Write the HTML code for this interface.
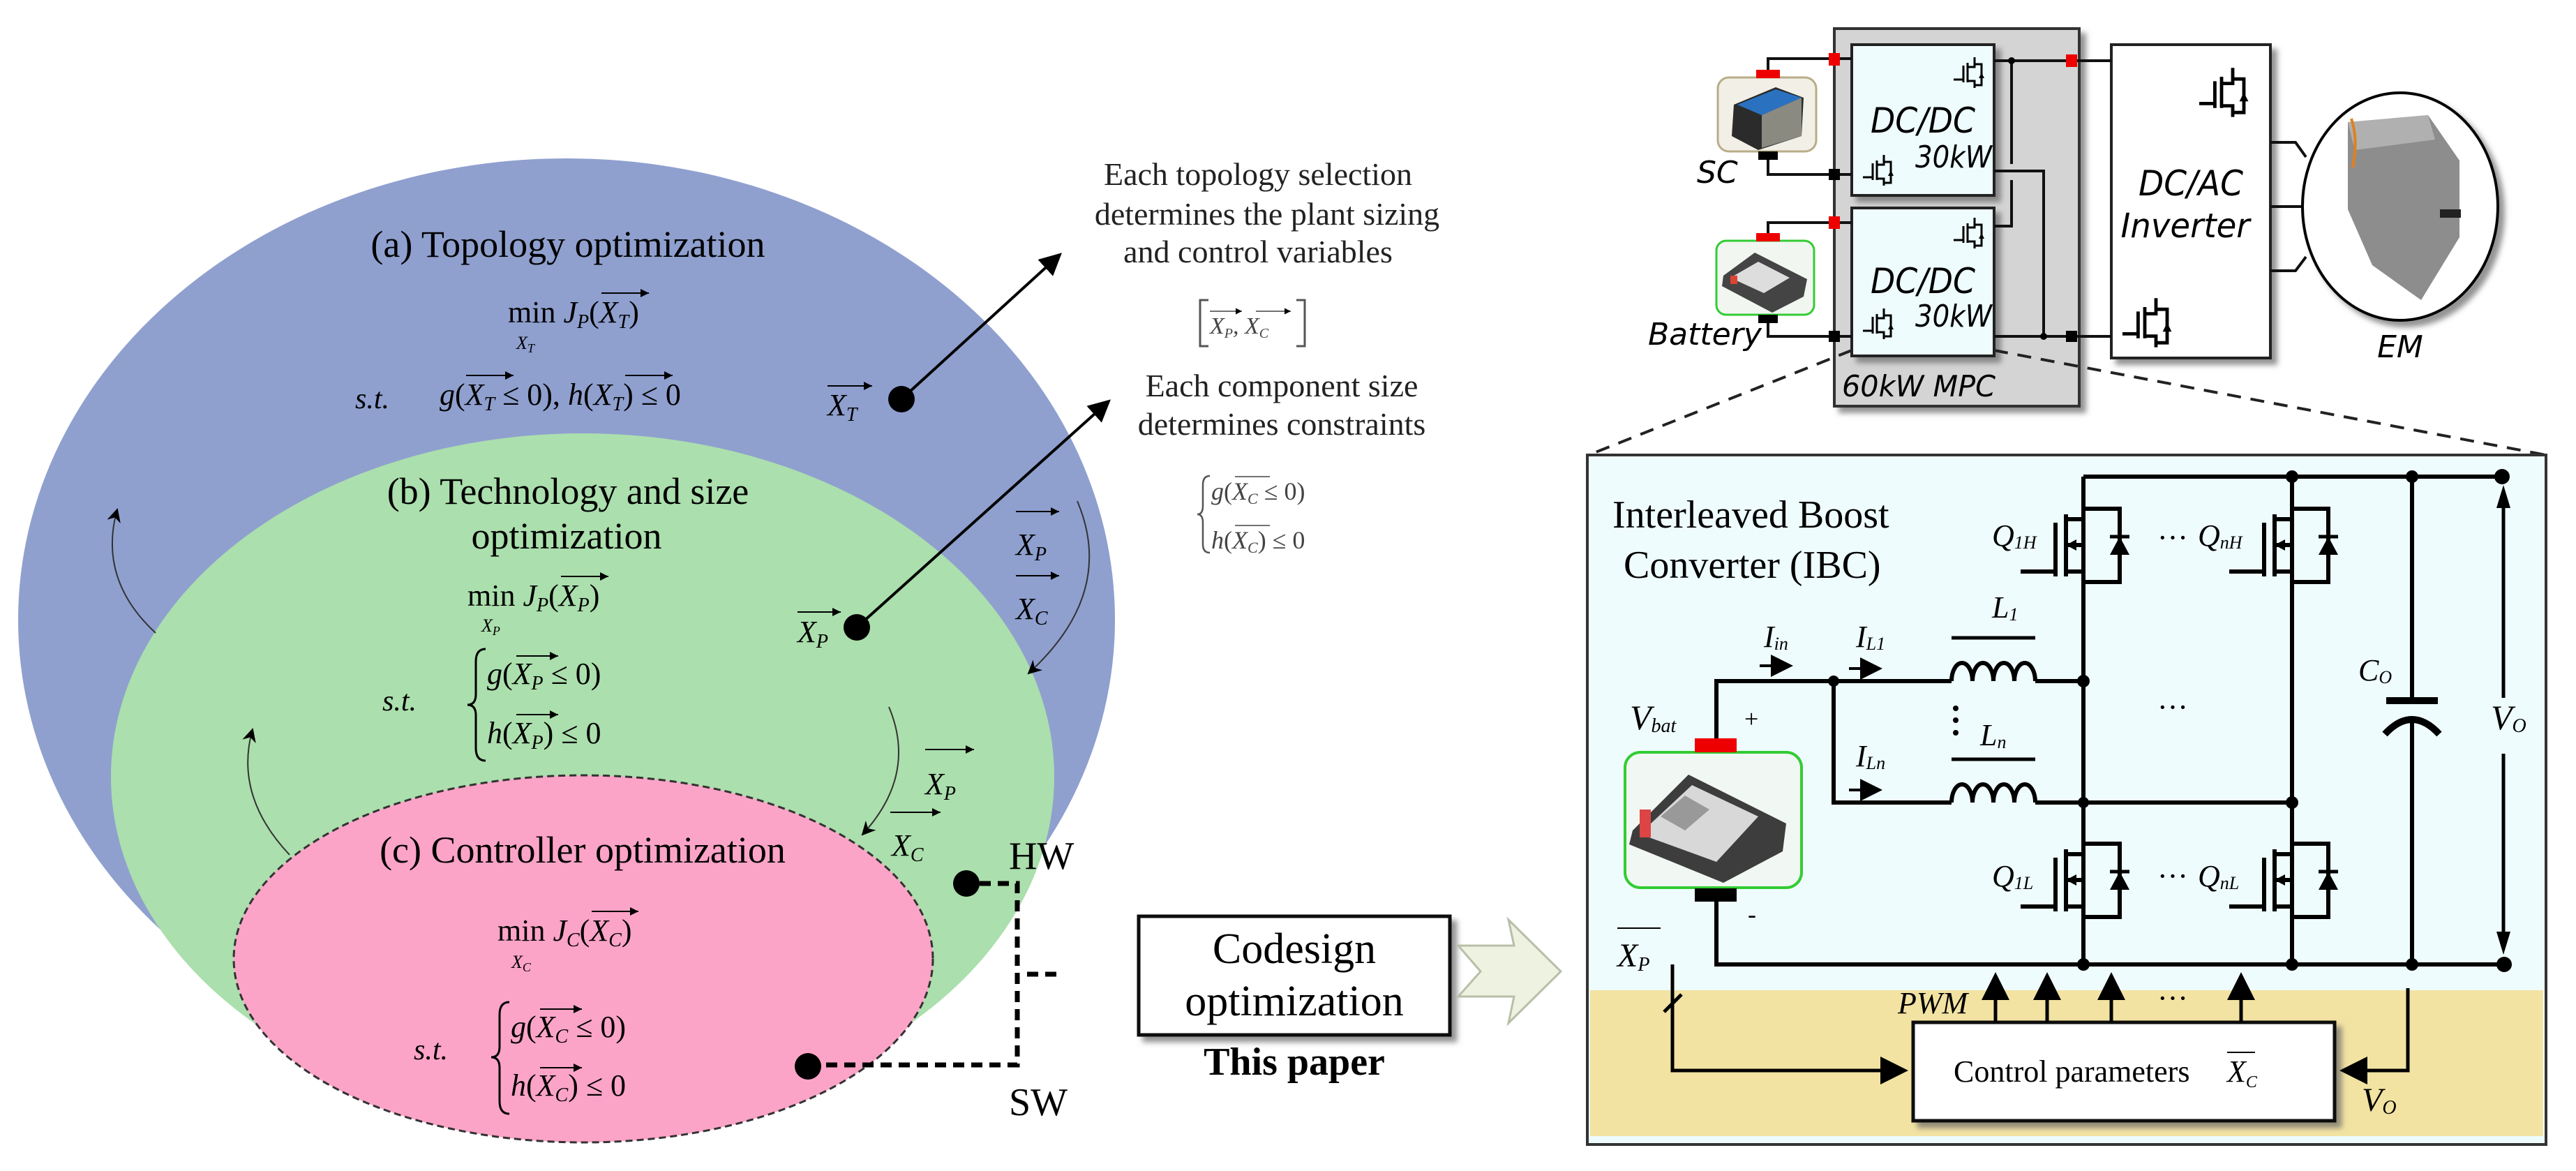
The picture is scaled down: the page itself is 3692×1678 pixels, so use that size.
<!DOCTYPE html>
<html><head><meta charset="utf-8"><style>
html,body{margin:0;padding:0;background:#fff}
svg{display:block}
.s{font-family:"Liberation Serif",serif}
.m{font-family:"Liberation Serif",serif;font-style:italic}
.d{font-family:"DejaVu Sans",sans-serif;font-style:italic}
</style></head><body>
<svg width="3692" height="1678" viewBox="0 0 3692 1678" xmlns="http://www.w3.org/2000/svg">
<defs>
<marker id="ah" markerWidth="10" markerHeight="10" refX="9" refY="5" orient="auto" markerUnits="strokeWidth"><path d="M0,0 L10,5 L0,10 L3,5 z" fill="#000"/></marker>
<marker id="ah2" markerWidth="8" markerHeight="8" refX="7" refY="4" orient="auto" markerUnits="strokeWidth"><path d="M0,0 L8,4 L0,8 z" fill="#000"/></marker>
<marker id="sa" markerWidth="6" markerHeight="6" refX="6" refY="3" orient="auto" markerUnits="strokeWidth"><path d="M0,0 L6,3 L0,6 z" fill="#000"/></marker>
<filter id="sh" x="-10%" y="-10%" width="130%" height="130%"><feDropShadow dx="8" dy="8" stdDeviation="4" flood-color="#666" flood-opacity="0.7"/></filter>
<g id="mos" fill="none" stroke="#000" stroke-width="6">
<path d="M0,-10 V15 H-25"/><path d="M-25,90 H0 V115"/>
<path d="M-25,8 V97"/><path d="M-25,52 H0"/>
<path d="M-40,20 V97"/><path d="M-40,90 H-90"/>
<path d="M0,0 H52 V105 H0"/>
<polygon points="52,40 38,66 66,66" fill="#000" stroke="none"/>
<path d="M38,40 H66" stroke-width="5"/>
<polygon points="-25,52 -10,44 -10,60" fill="#000" stroke="none"/>
</g>
<g id="smos" fill="none" stroke="#000" stroke-width="3">
<path d="M0,-8 V6 H-10 M-10,0 V28 M-10,26 H0 V36 M-16,4 V28 M-16,24 H-30 M0,2 H10 V32 H0"/>
<polygon points="10,14 6,22 14,22" fill="#000" stroke="none"/>
</g>
</defs>

<ellipse cx="812" cy="888" rx="786" ry="661" fill="#8fa0cf"/>
<ellipse cx="835" cy="1113" rx="676" ry="492" fill="#abdfad"/>
<ellipse cx="836" cy="1374" rx="501" ry="263" fill="#fca4c7" stroke="#333" stroke-width="3" stroke-dasharray="10,6"/>

<!-- (a) -->
<text class="s" x="814" y="368" font-size="54" text-anchor="middle">(a) Topology optimization</text>
<text class="s" x="728" y="462" font-size="44">min <tspan class="m">J</tspan><tspan class="m" font-size="28" dy="8">P</tspan><tspan dy="-8">(</tspan><tspan class="m">X</tspan><tspan class="m" font-size="28" dy="8">T</tspan><tspan dy="-8">)</tspan></text>
<line x1="862" y1="420" x2="930" y2="420" stroke="#000" stroke-width="2" marker-end="url(#sa)"/>
<text class="m" x="740" y="500" font-size="26">X<tspan font-size="18" dy="5">T</tspan></text>
<text class="m" x="509" y="585" font-size="42">s.t.</text>
<text class="s" x="630" y="580" font-size="44"><tspan class="m">g</tspan>(<tspan class="m">X</tspan><tspan class="m" font-size="28" dy="8">T</tspan><tspan dy="-8"> ≤ 0), </tspan><tspan class="m">h</tspan>(<tspan class="m">X</tspan><tspan class="m" font-size="28" dy="8">T</tspan><tspan dy="-8">) ≤ 0</tspan></text>
<line x1="668" y1="538" x2="736" y2="538" stroke="#000" stroke-width="2" marker-end="url(#sa)"/>
<line x1="896" y1="538" x2="964" y2="538" stroke="#000" stroke-width="2" marker-end="url(#sa)"/>
<text class="m" x="1186" y="595" font-size="44">X<tspan font-size="28" dy="8">T</tspan></text>
<line x1="1186" y1="553" x2="1250" y2="553" stroke="#000" stroke-width="2" marker-end="url(#sa)"/>
<circle cx="1292" cy="572" r="19" fill="#000"/>
<line x1="1292" y1="572" x2="1519" y2="365" stroke="#000" stroke-width="4" marker-end="url(#ah2)"/>

<!-- (b) -->
<text class="s" x="814" y="722" font-size="54" text-anchor="middle">(b) Technology and size</text>
<text class="s" x="812" y="786" font-size="54" text-anchor="middle">optimization</text>
<text class="s" x="670" y="868" font-size="44">min <tspan class="m">J</tspan><tspan class="m" font-size="28" dy="8">P</tspan><tspan dy="-8">(</tspan><tspan class="m">X</tspan><tspan class="m" font-size="28" dy="8">P</tspan><tspan dy="-8">)</tspan></text>
<line x1="804" y1="826" x2="872" y2="826" stroke="#000" stroke-width="2" marker-end="url(#sa)"/>
<text class="m" x="690" y="905" font-size="26">X<tspan font-size="18" dy="5">P</tspan></text>
<text class="m" x="548" y="1018" font-size="42">s.t.</text>
<path d="M696,930 Q682,930 682,948 V995 Q682,1010 670,1010 Q682,1010 682,1025 V1072 Q682,1090 696,1090" fill="none" stroke="#000" stroke-width="3"/>
<text class="s" x="698" y="980" font-size="44"><tspan class="m">g</tspan>(<tspan class="m">X</tspan><tspan class="m" font-size="28" dy="8">P</tspan><tspan dy="-8"> ≤ 0)</tspan></text>
<line x1="740" y1="940" x2="800" y2="940" stroke="#000" stroke-width="2" marker-end="url(#sa)"/>
<text class="s" x="698" y="1065" font-size="44"><tspan class="m">h</tspan>(<tspan class="m">X</tspan><tspan class="m" font-size="28" dy="8">P</tspan><tspan dy="-8">) ≤ 0</tspan></text>
<line x1="740" y1="1024" x2="800" y2="1024" stroke="#000" stroke-width="2" marker-end="url(#sa)"/>
<text class="m" x="1143" y="920" font-size="44">X<tspan font-size="28" dy="8">P</tspan></text>
<line x1="1143" y1="877" x2="1205" y2="877" stroke="#000" stroke-width="2" marker-end="url(#sa)"/>
<circle cx="1228" cy="899" r="19" fill="#000"/>
<line x1="1228" y1="899" x2="1589" y2="575" stroke="#000" stroke-width="4" marker-end="url(#ah2)"/>

<path d="M223,907 Q140,830 168,730" fill="none" stroke="#333" stroke-width="2" marker-end="url(#ah)"/>
<path d="M415,1225 Q335,1140 362,1045" fill="none" stroke="#333" stroke-width="2" marker-end="url(#ah)"/>
<path d="M1544,718 Q1600,850 1474,965" fill="none" stroke="#333" stroke-width="2" marker-end="url(#ah)"/>
<path d="M1274,1013 Q1315,1110 1236,1196" fill="none" stroke="#333" stroke-width="2" marker-end="url(#ah)"/>
<text class="m" x="1456" y="795" font-size="44">X<tspan font-size="28" dy="8">P</tspan></text>
<line x1="1456" y1="733" x2="1518" y2="733" stroke="#000" stroke-width="2" marker-end="url(#sa)"/>
<text class="m" x="1456" y="887" font-size="44">X<tspan font-size="28" dy="8">C</tspan></text>
<line x1="1456" y1="825" x2="1518" y2="825" stroke="#000" stroke-width="2" marker-end="url(#sa)"/>
<text class="m" x="1326" y="1138" font-size="44">X<tspan font-size="28" dy="8">P</tspan></text>
<line x1="1326" y1="1074" x2="1396" y2="1074" stroke="#000" stroke-width="2" marker-end="url(#sa)"/>
<text class="m" x="1278" y="1226" font-size="44">X<tspan font-size="28" dy="8">C</tspan></text>
<line x1="1276" y1="1164" x2="1348" y2="1164" stroke="#000" stroke-width="2" marker-end="url(#sa)"/>

<!-- (c) -->
<text class="s" x="835" y="1236" font-size="54" text-anchor="middle">(c) Controller optimization</text>
<text class="s" x="713" y="1348" font-size="44">min <tspan class="m">J</tspan><tspan class="m" font-size="28" dy="8">C</tspan><tspan dy="-8">(</tspan><tspan class="m">X</tspan><tspan class="m" font-size="28" dy="8">C</tspan><tspan dy="-8">)</tspan></text>
<line x1="848" y1="1306" x2="915" y2="1306" stroke="#000" stroke-width="2" marker-end="url(#sa)"/>
<text class="m" x="733" y="1387" font-size="26">X<tspan font-size="18" dy="5">C</tspan></text>
<text class="m" x="593" y="1518" font-size="42">s.t.</text>
<path d="M730,1436 Q716,1436 716,1454 V1500 Q716,1515 704,1515 Q716,1515 716,1530 V1578 Q716,1596 730,1596" fill="none" stroke="#000" stroke-width="3"/>
<text class="s" x="732" y="1486" font-size="44"><tspan class="m">g</tspan>(<tspan class="m">X</tspan><tspan class="m" font-size="28" dy="8">C</tspan><tspan dy="-8"> ≤ 0)</tspan></text>
<line x1="774" y1="1446" x2="834" y2="1446" stroke="#000" stroke-width="2" marker-end="url(#sa)"/>
<text class="s" x="732" y="1570" font-size="44"><tspan class="m">h</tspan>(<tspan class="m">X</tspan><tspan class="m" font-size="28" dy="8">C</tspan><tspan dy="-8">) ≤ 0</tspan></text>
<line x1="774" y1="1530" x2="834" y2="1530" stroke="#000" stroke-width="2" marker-end="url(#sa)"/>
<circle cx="1158" cy="1528" r="19" fill="#000"/>
<circle cx="1385" cy="1266" r="19" fill="#000"/>
<path d="M1158,1526 H1458 V1266 H1385" fill="none" stroke="#000" stroke-width="7" stroke-dasharray="16,10"/>
<path d="M1472,1396 H1518" fill="none" stroke="#000" stroke-width="7" stroke-dasharray="16,10"/>
<text class="s" x="1446" y="1245" font-size="56">HW</text>
<text class="s" x="1446" y="1598" font-size="56">SW</text>

<g class="s" font-size="46" text-anchor="middle" fill="#222">
<text x="1803" y="265">Each topology selection</text>
<text x="1816" y="322">determines the plant sizing</text>
<text x="1803" y="376">and control variables</text>
<text x="1837" y="568">Each component size</text>
<text x="1837" y="623">determines constraints</text>
</g>
<g fill="#444">
<path d="M1732,430 H1720 V496 H1732 M1858,430 H1870 V496 H1858" fill="none" stroke="#555" stroke-width="3"/>
<text class="m" x="1734" y="478" font-size="34">X<tspan font-size="20" dy="6">P</tspan><tspan dy="-6">, X</tspan><tspan font-size="20" dy="6">C</tspan></text>
<line x1="1734" y1="446" x2="1780" y2="446" stroke="#444" stroke-width="1.5" marker-end="url(#sa)"/>
<line x1="1800" y1="446" x2="1850" y2="446" stroke="#444" stroke-width="1.5" marker-end="url(#sa)"/>
<path d="M1734,682 Q1724,682 1724,695 V725 Q1724,737 1716,737 Q1724,737 1724,749 V780 Q1724,792 1734,792" fill="none" stroke="#555" stroke-width="2.5"/>
<text class="s" x="1736" y="716" font-size="36"><tspan class="m">g</tspan>(<tspan class="m">X</tspan><tspan class="m" font-size="22" dy="6">C</tspan><tspan dy="-6"> ≤ 0)</tspan></text>
<line x1="1770" y1="683" x2="1820" y2="683" stroke="#444" stroke-width="1.5"/>
<text class="s" x="1736" y="786" font-size="36"><tspan class="m">h</tspan>(<tspan class="m">X</tspan><tspan class="m" font-size="22" dy="6">C</tspan><tspan dy="-6">) ≤ 0</tspan></text>
<line x1="1770" y1="753" x2="1820" y2="753" stroke="#444" stroke-width="1.5"/>
</g>

<rect x="1632" y="1313" width="446" height="170" fill="#fff" stroke="#111" stroke-width="5" filter="url(#sh)"/>
<text class="s" x="1855" y="1380" font-size="62" text-anchor="middle">Codesign</text>
<text class="s" x="1855" y="1455" font-size="62" text-anchor="middle">optimization</text>
<text class="s" x="1855" y="1540" font-size="56" font-weight="bold" text-anchor="middle">This paper</text>
<polygon points="2090,1355 2170,1355 2162,1318 2237,1392 2162,1466 2170,1428 2090,1428 2122,1392" fill="#eef2e0" stroke="#b8bfa8" stroke-width="3"/>

<rect x="2629" y="41" width="351" height="541" fill="#d4d4d4" stroke="#333" stroke-width="4" filter="url(#sh)"/>
<rect x="2654" y="64" width="204" height="216" fill="#eefcfd" stroke="#222" stroke-width="4" filter="url(#sh)"/>
<rect x="2654" y="298" width="204" height="212" fill="#eefcfd" stroke="#222" stroke-width="4" filter="url(#sh)"/>
<rect x="3026" y="64" width="228" height="449" fill="#fff" stroke="#222" stroke-width="4" filter="url(#sh)"/>
<text class="d" x="2756" y="190" font-size="50" text-anchor="middle" textLength="150" lengthAdjust="spacingAndGlyphs">DC/DC</text>
<text class="d" x="2800" y="240" font-size="44" text-anchor="middle" textLength="110" lengthAdjust="spacingAndGlyphs">30kW</text>
<text class="d" x="2756" y="420" font-size="50" text-anchor="middle" textLength="150" lengthAdjust="spacingAndGlyphs">DC/DC</text>
<text class="d" x="2800" y="468" font-size="44" text-anchor="middle" textLength="110" lengthAdjust="spacingAndGlyphs">30kW</text>
<text class="d" x="3140" y="280" font-size="50" text-anchor="middle" textLength="150" lengthAdjust="spacingAndGlyphs">DC/AC</text>
<text class="d" x="3132" y="340" font-size="48" text-anchor="middle" textLength="185" lengthAdjust="spacingAndGlyphs">Inverter</text>
<text class="d" x="2750" y="568" font-size="42" text-anchor="middle" textLength="220" lengthAdjust="spacingAndGlyphs">60kW MPC</text>
<text class="d" x="2432" y="262" font-size="44">SC</text>
<text class="d" x="2362" y="494" font-size="44">Battery</text>
<text class="d" x="3440" y="512" font-size="44" text-anchor="middle">EM</text>
<use href="#smos" x="2830" y="90"/>
<use href="#smos" x="2700" y="230"/>
<use href="#smos" x="2830" y="320"/>
<use href="#smos" x="2700" y="450"/>
<g transform="translate(3200,110) scale(1.6)"><use href="#smos"/></g>
<g transform="translate(3090,440) scale(1.6)"><use href="#smos"/></g>
<g fill="none" stroke="#111" stroke-width="4">
<path d="M2534,100 V84 H2654"/><path d="M2534,228 V250 H2654"/>
<path d="M2534,336 V319 H2654"/><path d="M2534,460 V482 H2654"/>
<path d="M2858,87 H3026"/><path d="M2858,482 H3026"/>
<path d="M2883,87 V235 M2883,258 V324 H2858"/>
<path d="M2858,245 H2929 V482"/>
<path d="M3254,204 H3290 L3305,225 M3254,296 H3300 M3254,388 H3290 L3305,368"/>
</g>
<rect x="2621" y="76" width="16" height="18" fill="#e00"/><rect x="2961" y="78" width="16" height="18" fill="#e00"/>
<rect x="2621" y="310" width="16" height="18" fill="#e00"/>
<rect x="2621" y="242" width="16" height="16" fill="#000"/><rect x="2621" y="474" width="16" height="16" fill="#000"/>
<rect x="2961" y="474" width="16" height="16" fill="#000"/>
<circle cx="2883" cy="87" r="5"/><circle cx="2929" cy="482" r="5"/>
<rect x="2462" y="111" width="141" height="106" rx="16" fill="#f1efe6" stroke="#b8ad88" stroke-width="3"/>
<rect x="2517" y="100" width="34" height="12" fill="#e00"/><rect x="2520" y="217" width="28" height="12" fill="#000"/>
<polygon points="2485,150 2545,125 2585,140 2582,195 2520,215 2482,195" fill="#2b2b2b"/>
<polygon points="2490,150 2545,128 2582,140 2525,165" fill="#2a72c0"/>
<polygon points="2525,165 2582,140 2582,195 2525,212" fill="#8a8a80"/>
<rect x="2460" y="345" width="140" height="106" rx="14" fill="#f1f6f1" stroke="#3c3" stroke-width="3"/>
<rect x="2517" y="334" width="34" height="12" fill="#e00"/><rect x="2520" y="451" width="28" height="12" fill="#000"/>
<polygon points="2470,395 2515,362 2590,400 2585,425 2540,448 2468,410" fill="#444"/>
<polygon points="2480,398 2520,375 2565,398 2528,420" fill="#ddd"/>
<rect x="2480" y="395" width="10" height="12" fill="#d43"/>
<ellipse cx="3440" cy="296" rx="140" ry="163" fill="#fff" stroke="#000" stroke-width="4" filter="url(#sh)"/>
<polygon points="3365,175 3480,165 3525,230 3525,340 3470,430 3400,380 3365,300" fill="#8d8d8d"/>
<polygon points="3365,175 3480,165 3490,200 3375,215" fill="#b0b0b0"/>
<path d="M3370,170 Q3380,200 3372,240" stroke="#e08020" stroke-width="4" fill="none"/>
<rect x="3497" y="300" width="30" height="12" fill="#222"/>
<line x1="2654" y1="502" x2="2277" y2="652" stroke="#222" stroke-width="4" stroke-dasharray="20,14"/>
<line x1="2858" y1="502" x2="3649" y2="652" stroke="#222" stroke-width="4" stroke-dasharray="20,14"/>

<rect x="2275" y="652" width="1374" height="988" fill="#effcfd" stroke="#333" stroke-width="4"/>
<rect x="2279" y="1419" width="1366" height="209" fill="#f3e3a3"/>
<text class="s" x="2311" y="756" font-size="56">Interleaved Boost</text>
<text class="s" x="2327" y="828" font-size="56">Converter (IBC)</text>
<g fill="none" stroke="#000" stroke-width="6">
<path d="M2986,683 H3586"/>
<path d="M2986,683 V1382"/><path d="M3285,683 V1382"/>
<path d="M2460,1058 V976 H2797 M2917,976 H2986"/>
<path d="M2628,976 V1150 H2797 M2917,1150 H3285"/>
<path d="M2460,1292 V1382 H3589"/>
<path d="M3457,683 V1004 M3457,1035 V1382"/>
<path d="M3420,1004 H3494" stroke-width="10"/>
<path d="M3418,1052 Q3457,1010 3496,1052" stroke-width="10"/>
<path d="M2797,976 a15,26 0 1 1 30,0 a15,26 0 1 1 30,0 a15,26 0 1 1 30,0 a15,26 0 1 1 30,0"/>
<path d="M2797,1150 a15,26 0 1 1 30,0 a15,26 0 1 1 30,0 a15,26 0 1 1 30,0 a15,26 0 1 1 30,0"/>
<path d="M2797,914 H2917 M2797,1088 H2917" stroke-width="5"/>
<path d="M3588,709 V1000 M3588,1080 V1354" stroke-width="5"/>
</g>
<polygon points="3588,695 3578,728 3598,728" fill="#000"/>
<polygon points="3588,1368 3578,1335 3598,1335" fill="#000"/>
<use href="#mos" x="2986" y="729"/><use href="#mos" x="3285" y="729"/>
<use href="#mos" x="2986" y="1209"/><use href="#mos" x="3285" y="1209"/>
<g fill="#000">
<circle cx="3285" cy="683" r="9"/><circle cx="3457" cy="683" r="9"/><circle cx="3586" cy="683" r="11"/>
<circle cx="2628" cy="976" r="8"/><circle cx="2986" cy="976" r="9"/><circle cx="2986" cy="1150" r="8"/><circle cx="3285" cy="1150" r="9"/>
<circle cx="2986" cy="1382" r="9"/><circle cx="3285" cy="1382" r="9"/><circle cx="3457" cy="1382" r="9"/><circle cx="3589" cy="1382" r="11"/>
<circle cx="2803" cy="1015" r="4"/><circle cx="2803" cy="1032" r="4"/><circle cx="2803" cy="1050" r="4"/>
</g>
<g class="m" font-size="44">
<text x="2855" y="782">Q<tspan font-size="26" dy="4">1H</tspan></text>
<text x="3150" y="782">Q<tspan font-size="26" dy="4">nH</tspan></text>
<text x="2855" y="1270">Q<tspan font-size="26" dy="4">1L</tspan></text>
<text x="3150" y="1270">Q<tspan font-size="26" dy="4">nL</tspan></text>
<text x="2528" y="927">I<tspan font-size="26" dy="4">in</tspan></text>
<text x="2660" y="927">I<tspan font-size="26" dy="4">L1</tspan></text>
<text x="2660" y="1098">I<tspan font-size="26" dy="4">Ln</tspan></text>
<text x="2855" y="885">L<tspan font-size="26" dy="4">1</tspan></text>
<text x="2838" y="1068">L<tspan font-size="26" dy="4">n</tspan></text>
<text x="2336" y="1045" font-size="50">V<tspan font-size="28" dy="4">bat</tspan></text>
<text x="3380" y="975">C<tspan font-size="26" dy="4">O</tspan></text>
<text x="3570" y="1045" font-size="50">V<tspan font-size="28" dy="4">O</tspan></text>
<text x="2720" y="1452">PWM</text>
<text x="3385" y="1592" font-size="48">V<tspan font-size="28" dy="4">O</tspan></text>
<text x="2318" y="1385" font-size="48">X<tspan font-size="28" dy="6">P</tspan></text>
</g>
<line x1="2318" y1="1330" x2="2380" y2="1330" stroke="#000" stroke-width="2"/>
<text class="s" x="2500" y="1042" font-size="36">+</text>
<text class="s" x="2505" y="1322" font-size="36">-</text>
<g class="s" font-size="44"><text x="3092" y="785">···</text><text x="3092" y="1270">···</text><text x="3092" y="1028">···</text><text x="3092" y="1445">···</text></g>
<g stroke="#000" stroke-width="4" fill="none">
<line x1="2522" y1="954" x2="2566" y2="954" marker-end="url(#ah2)"/>
<line x1="2650" y1="958" x2="2694" y2="958" marker-end="url(#ah2)"/>
<line x1="2650" y1="1132" x2="2694" y2="1132" marker-end="url(#ah2)"/>
</g>
<rect x="2329" y="1078" width="253" height="194" rx="22" fill="#f1f7f2" stroke="#3c3" stroke-width="4"/>
<rect x="2429" y="1058" width="60" height="20" fill="#e00"/><rect x="2429" y="1273" width="60" height="19" fill="#000"/>
<polygon points="2340,1190 2420,1110 2560,1180 2555,1220 2470,1265 2335,1210" fill="#3d3d3d"/>
<polygon points="2350,1195 2425,1125 2520,1170 2460,1235" fill="#d8d8d8"/>
<polygon points="2380,1170 2415,1140 2450,1160 2415,1190" fill="#999"/>
<rect x="2350" y="1160" width="16" height="40" fill="#d44"/>
<rect x="2742" y="1465" width="604" height="141" fill="#fff" stroke="#111" stroke-width="5" filter="url(#sh)"/>
<text class="s" x="2800" y="1550" font-size="44">Control parameters</text>
<text class="m" x="3192" y="1550" font-size="44">X<tspan font-size="24" dy="8">C</tspan></text>
<line x1="3192" y1="1508" x2="3232" y2="1508" stroke="#000" stroke-width="2"/>
<g stroke="#000" stroke-width="5" fill="none">
<line x1="2860" y1="1465" x2="2860" y2="1398" marker-end="url(#ah2)"/>
<line x1="2934" y1="1465" x2="2934" y2="1398" marker-end="url(#ah2)"/>
<line x1="3026" y1="1465" x2="3026" y2="1398" marker-end="url(#ah2)"/>
<line x1="3212" y1="1465" x2="3212" y2="1398" marker-end="url(#ah2)"/>
<path d="M2397,1382 V1534 H2730" marker-end="url(#ah2)"/>
<path d="M3451,1416 V1534 H3358" marker-end="url(#ah2)"/>
<line x1="2385" y1="1450" x2="2410" y2="1425"/>
</g>
</svg>
</body></html>
